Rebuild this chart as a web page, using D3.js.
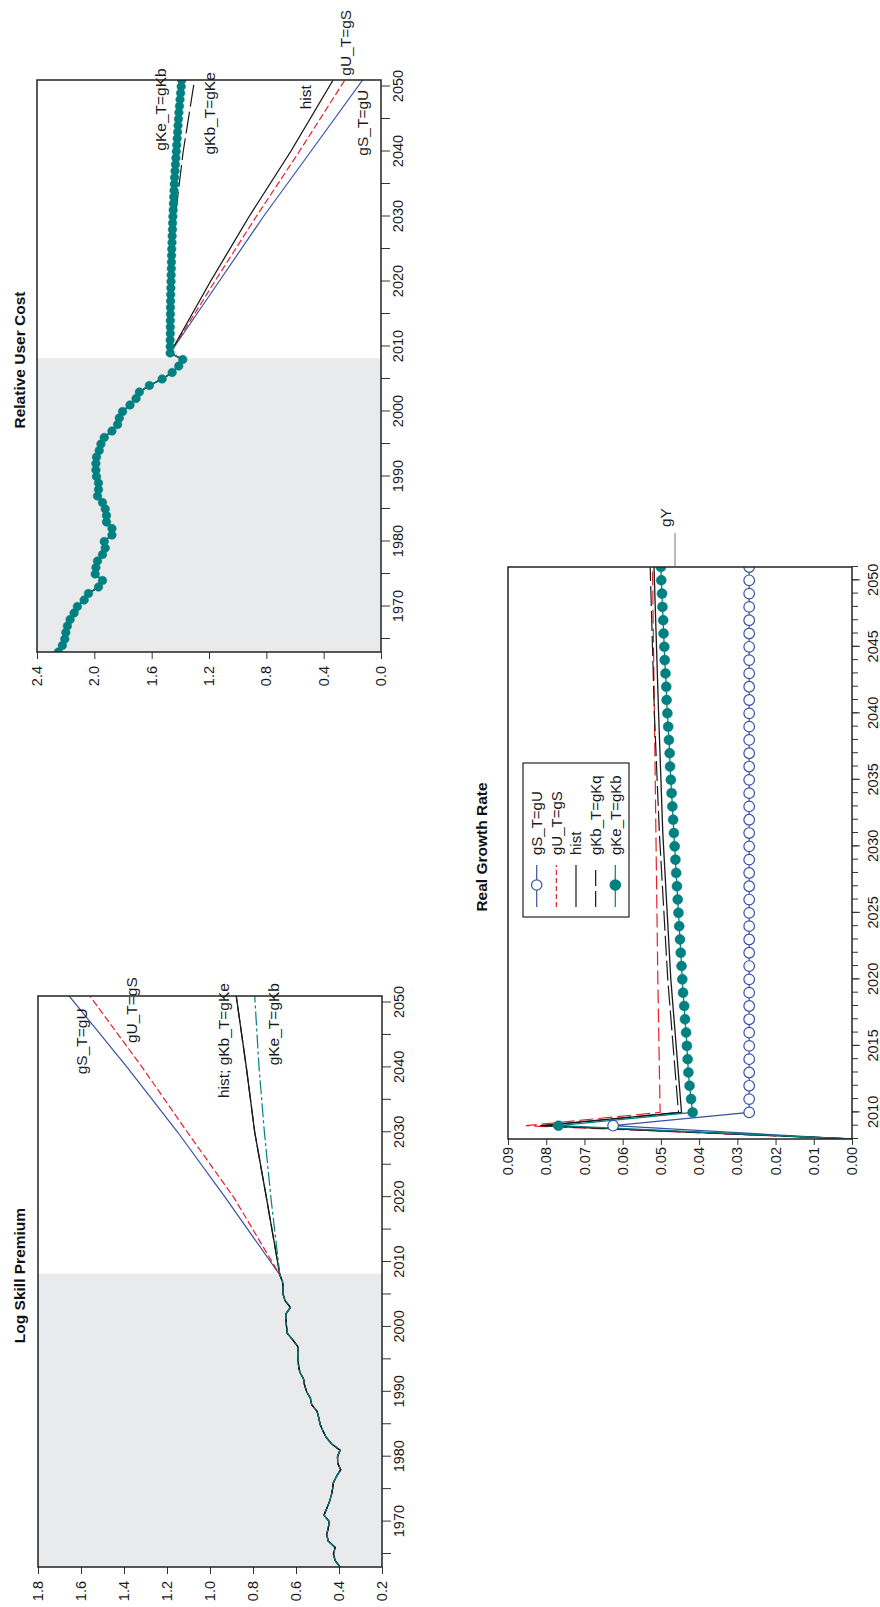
<!DOCTYPE html>
<html>
<head>
<meta charset="utf-8">
<script src="https://cdn.jsdelivr.net/npm/d3@7"></script>
<style>
  body { margin: 0; background: #fff; }
  svg { display: block; font-family: "Liberation Sans", Arial, Helvetica, sans-serif; }
  .axis path { display: none; }
  .axis line { stroke: #333; }
  .axis text { font-family: "Liberation Sans", Arial, Helvetica, sans-serif; font-size: 14.5px; fill: #1a1a1a; }
  .lbl { font-size: 15.5px; fill: #1a1a1a; }
  .title { font-size: 15.5px; font-weight: bold; fill: #111; }
</style>
</head>
<body>
<svg id="chart" width="880" height="1607"></svg>
<script>
// ---- data ----
var histYears = d3.range(1963, 2009);   // 1963..2008, shaded part

// Log Skill Premium
var lspHist = [0.395, 0.418, 0.426, 0.418, 0.450, 0.457, 0.450, 0.445, 0.470, 0.457,
               0.445, 0.436, 0.430, 0.426, 0.411, 0.392, 0.406, 0.407, 0.395, 0.435,
               0.460, 0.475, 0.488, 0.494, 0.502, 0.527, 0.533, 0.550, 0.560, 0.565,
               0.582, 0.588, 0.590, 0.590, 0.592, 0.615, 0.640, 0.644, 0.646, 0.647,
               0.626, 0.650, 0.660, 0.660, 0.663, 0.675];
var lspProjYears = [2020, 2030, 2040, 2051];
var lspGS = [0.93, 1.15, 1.385, 1.655];
var lspGU = [0.89, 1.105, 1.315, 1.559];
var lspHistProj = [0.738, 0.792, 0.831, 0.878];
var lspGKb = [0.738, 0.792, 0.831, 0.878];
var lspGKe = [0.717, 0.747, 0.772, 0.792];
var lspValueTicks = [0.2, 0.4, 0.6, 0.8, 1.0, 1.2, 1.4, 1.6, 1.8];

// Relative User Cost
var rucHist = [2.251, 2.223, 2.206, 2.199, 2.188, 2.169, 2.141, 2.118, 2.071, 2.041,
               1.971, 1.943, 1.994, 1.989, 1.978, 1.943, 1.924, 1.931, 1.877, 1.877,
               1.915, 1.915, 1.924, 1.943, 1.978, 1.971, 1.971, 1.985, 1.989, 1.989,
               1.985, 1.966, 1.954, 1.931, 1.877, 1.838, 1.826, 1.803, 1.751, 1.709,
               1.686, 1.616, 1.527, 1.457, 1.411, 1.383];
var rucProjYears = [2009, 2020, 2030, 2040, 2051];
var rucGS = [1.471, 1.13, 0.82, 0.49, 0.128];
var rucGU = [1.471, 1.16, 0.87, 0.57, 0.252];
var rucHistProj = [1.471, 1.19, 0.92, 0.63, 0.334];
var rucGKbYears = [2009, 2015, 2022, 2030, 2040, 2051];
var rucGKb = [1.471, 1.469, 1.463, 1.435, 1.38, 1.301];
var rucGKeYears = d3.range(2009, 2052);
var rucGKe = [1.471, 1.471, 1.471, 1.470, 1.470, 1.470, 1.469, 1.469, 1.468, 1.467,
              1.466, 1.465, 1.464, 1.463, 1.462, 1.461, 1.460, 1.458, 1.457, 1.455,
              1.454, 1.452, 1.450, 1.448, 1.446, 1.444, 1.442, 1.440, 1.437, 1.434,
              1.431, 1.428, 1.425, 1.422, 1.419, 1.416, 1.413, 1.410, 1.406, 1.402,
              1.398, 1.394, 1.390];
var rucValueTicks = [0.0, 0.4, 0.8, 1.2, 1.6, 2.0, 2.4];

// Real Growth Rate
var rgrYears = d3.range(2008, 2052);
var rgrGS = [0, 0.0625,
             0.0269, 0.0269, 0.0269, 0.0269, 0.0269, 0.0269, 0.0269, 0.0269, 0.0269, 0.0269,
             0.0269, 0.0269, 0.0269, 0.0269, 0.0269, 0.0269, 0.0269, 0.0269, 0.0269, 0.0269,
             0.0269, 0.0269, 0.0269, 0.0269, 0.0269, 0.0269, 0.0269, 0.0269, 0.0269, 0.0269,
             0.0269, 0.0269, 0.0269, 0.0269, 0.0269, 0.0269, 0.0269, 0.0269, 0.0269, 0.0269,
             0.0269, 0.0269];
var rgrGKe = [0, 0.0768,
              0.0417, 0.0421, 0.0425, 0.0428, 0.0430, 0.0432, 0.0434, 0.0437, 0.0439, 0.0442,
              0.0444, 0.0446, 0.0448, 0.0450, 0.0452, 0.0454, 0.0456, 0.0458, 0.0460, 0.0462,
              0.0464, 0.0466, 0.0468, 0.0470, 0.0472, 0.0474, 0.0476, 0.0477, 0.0479, 0.0481,
              0.0483, 0.0485, 0.0486, 0.0488, 0.0490, 0.0491, 0.0493, 0.0494, 0.0496, 0.0497,
              0.0499, 0.0500];
var rgrLineYears = [2008, 2009, 2010, 2020, 2031, 2040, 2051];
var rgrGU = [0, 0.0853, 0.0502, 0.0508, 0.0513, 0.0517, 0.0522];
var rgrHist = [0, 0.0816, 0.0446, 0.0474, 0.0495, 0.0506, 0.0518];
var rgrGKb = [0, 0.0805, 0.0454, 0.0482, 0.0504, 0.0517, 0.0528];
var rgrValueTicks = [0, 0.01, 0.02, 0.03, 0.04, 0.05, 0.06, 0.07, 0.08, 0.09];

var decadeTicks = [1970, 1980, 1990, 2000, 2010, 2020, 2030, 2040, 2050];
var rgrYearLabels = [2010, 2015, 2020, 2025, 2030, 2035, 2040, 2045, 2050];
var legendNames = ["gS_T=gU", "gU_T=gS", "hist", "gKb_T=gKq", "gKe_T=gKb"];

var blue = "#3953a4", red = "#e8202a", black = "#1a1a1a", teal = "#008080";

function join(years, vals) {
    return years.map(function (yr, i) { return [yr, vals[i]]; });
}

// ---- page: drawn landscape, then turned a quarter turn ----
var svg = d3.select("#chart");
var page = svg.append("g").attr("transform", "translate(0,1607) rotate(-90)");

function draw_panel(p) {
    var x = d3.scaleLinear().domain(p.xDomain).range([p.left, p.right]);
    var y = d3.scaleLinear().domain(p.yDomain).range([p.bottom, p.top]);
    var g = page.append("g");

    g.append("clipPath").attr("id", "clip-" + p.id)
        .append("rect")
        .attr("x", p.left).attr("y", p.top)
        .attr("width", p.right - p.left).attr("height", p.bottom - p.top);

    if (p.shadeTo) {
        g.append("rect")
            .attr("x", x(p.xDomain[0])).attr("y", p.top)
            .attr("width", x(p.shadeTo) - x(p.xDomain[0]))
            .attr("height", p.bottom - p.top)
            .attr("fill", "#e9eaec");
    }

    var plot = g.append("g").attr("clip-path", "url(#clip-" + p.id + ")");
    var line = d3.line().x(function (d) { return x(d[0]); }).y(function (d) { return y(d[1]); });

    p.series.forEach(function (s) {
        plot.append("path").datum(s.points)
            .attr("fill", "none")
            .attr("stroke", s.color)
            .attr("stroke-width", s.width || 1.2)
            .attr("stroke-dasharray", s.dash || null)
            .attr("d", line);
    });
    p.series.forEach(function (s) {
        if (!s.marker) return;
        plot.selectAll(null)
            .data(s.points.filter(function (d) { return d[0] >= s.markFrom; }))
            .enter().append("circle")
            .attr("cx", function (d) { return x(d[0]); })
            .attr("cy", function (d) { return y(d[1]); })
            .attr("r", s.r)
            .attr("fill", s.marker == "open" ? "#fff" : s.color)
            .attr("stroke", s.color)
            .attr("stroke-width", s.marker == "open" ? 1.2 : 0.5);
    });

    // x axis: minor ticks, then labelled ticks
    if (p.xMinor) {
        g.append("g").attr("class", "axis")
            .attr("transform", "translate(0," + p.bottom + ")")
            .call(d3.axisBottom(x).tickValues(p.xMinor).tickSize(p.xMinorSize).tickFormat(""));
    }
    g.append("g").attr("class", "axis")
        .attr("transform", "translate(0," + p.bottom + ")")
        .call(d3.axisBottom(x).tickValues(p.xTicks).tickSize(p.xTickSize).tickPadding(p.xPad)
            .tickFormat(function (d) { return p.xLabels.indexOf(d) >= 0 ? d : ""; }));

    g.append("g").attr("class", "axis")
        .attr("transform", "translate(" + p.left + ",0)")
        .call(d3.axisLeft(y).tickValues(p.yTicks).tickSize(p.yTickSize).tickPadding(p.yPad)
            .tickFormat(d3.format(p.yFormat)));

    g.append("rect")
        .attr("x", p.left).attr("y", p.top)
        .attr("width", p.right - p.left).attr("height", p.bottom - p.top)
        .attr("fill", "none").attr("stroke", "#222").attr("stroke-width", 1.5);

    g.append("text").attr("class", "title")
        .attr("x", (p.left + p.right) / 2 + 6).attr("y", p.titleY)
        .attr("text-anchor", "middle")
        .text(p.title);

    (p.labels || []).forEach(function (l) {
        g.append("text").attr("class", "lbl")
            .attr("x", x(l.at[0])).attr("y", y(l.at[1]))
            .attr("text-anchor", l.anchor || "end")
            .text(l.text);
    });

    return { g: g, x: x, y: y };
}

// ---- Log Skill Premium ----
var lspBase = join(histYears, lspHist);
draw_panel({
    id: "lsp", title: "Log Skill Premium", titleY: 25,
    left: 40, right: 611, top: 38, bottom: 382,
    xDomain: [1963, 2051], yDomain: [0.2, 1.8], shadeTo: 2008.2,
    xTicks: d3.range(1965, 2051, 5), xLabels: decadeTicks, xTickSize: 9, xPad: 3,
    yTicks: lspValueTicks, yFormat: ".1f", yTickSize: 7, yPad: 7,
    series: [
        { points: lspBase.concat(join(lspProjYears, lspGS)), color: blue },
        { points: lspBase.concat(join(lspProjYears, lspGU)), color: red, dash: "7,3" },
        { points: lspBase.concat(join(lspProjYears, lspHistProj)), color: black, width: 1.3 },
        { points: lspBase.concat(join(lspProjYears, lspGKb)), color: black, dash: "16,4" },
        { points: lspBase.concat(join(lspProjYears, lspGKe)), color: teal, dash: "14,3,3,3" }
    ],
    labels: [
        { text: "gS_T=gU", at: [2049.1, 1.572] },
        { text: "gU_T=gS", at: [2053.9, 1.340] },
        { text: "hist; gKb_T=gKe", at: [2053.0, 0.912] },
        { text: "gKe_T=gKb", at: [2053.0, 0.679] }
    ]
});

// ---- Relative User Cost ----
var rucBase = join(histYears, rucHist);
draw_panel({
    id: "ruc", title: "Relative User Cost", titleY: 25,
    left: 955, right: 1527, top: 37, bottom: 381,
    xDomain: [1963, 2051], yDomain: [0, 2.4], shadeTo: 2008.2,
    xTicks: d3.range(1965, 2051, 5), xLabels: decadeTicks, xTickSize: 9, xPad: 3,
    yTicks: rucValueTicks, yFormat: ".1f", yTickSize: 7, yPad: 7,
    series: [
        { points: rucBase.concat(join(rucProjYears, rucGS)), color: blue },
        { points: rucBase.concat(join(rucProjYears, rucGU)), color: red, dash: "7,3" },
        { points: rucBase.concat(join(rucProjYears, rucHistProj)), color: black, width: 1.3 },
        { points: rucBase.concat(join(rucGKbYears, rucGKb)), color: black, dash: "22,5" },
        { points: rucBase.concat(join(rucGKeYears, rucGKe)), color: teal,
          marker: "filled", r: 4.3, markFrom: 1963 }
    ],
    labels: [
        { text: "gKe_T=gKb", at: [2052.8, 1.500] },
        { text: "gKb_T=gKe", at: [2052.2, 1.158] },
        { text: "hist", at: [2050.2, 0.488] },
        { text: "gU_T=gS", at: [2061.8, 0.209] },
        { text: "gS_T=gU", at: [2049.5, 0.090] }
    ]
});

// ---- Real Growth Rate ----
var rgr = draw_panel({
    id: "rgr", title: "Real Growth Rate", titleY: 487,
    left: 468, right: 1040, top: 508, bottom: 852,
    xDomain: [2008, 2051], yDomain: [0, 0.09],
    xMinor: rgrYears, xMinorSize: 6,
    xTicks: rgrYearLabels, xLabels: rgrYearLabels, xTickSize: 8, xPad: 8,
    yTicks: rgrValueTicks, yFormat: ".2f", yTickSize: 6, yPad: 2,
    series: [
        { points: join(rgrYears, rgrGS), color: blue, marker: "open", r: 5.3, markFrom: 2009 },
        { points: join(rgrLineYears, rgrGU), color: red, dash: "14,5" },
        { points: join(rgrLineYears, rgrHist), color: black, width: 1.3 },
        { points: join(rgrLineYears, rgrGKb), color: black, dash: "20,5" },
        { points: join(rgrYears, rgrGKe), color: teal, width: 1.3, marker: "filled", r: 5, markFrom: 2009 }
    ],
    labels: [
        { text: "gY", at: [2054.0, 0.04735], anchor: "start" }
    ]
});

// leader line next to gY
rgr.g.append("line")
    .attr("x1", rgr.x(2051)).attr("x2", rgr.x(2053.56))
    .attr("y1", rgr.y(0.0463)).attr("y2", rgr.y(0.0463))
    .attr("stroke", "#555").attr("stroke-width", 0.8);

// legend
var legStyles = [
    { color: blue, marker: "open" },
    { color: red, dash: "5,3" },
    { color: black },
    { color: black, dash: "16,5" },
    { color: teal, marker: "filled" }
];
var lx = 468 + 222, ly = 508 + 15;
var leg = rgr.g.append("g");
leg.append("rect")
    .attr("x", lx).attr("y", ly).attr("width", 154).attr("height", 106)
    .attr("fill", "#fff").attr("stroke", "#222").attr("stroke-width", 1.2);

var rows = leg.selectAll(".row").data(legendNames).enter().append("g")
    .attr("class", "row")
    .attr("transform", function (d, i) { return "translate(" + lx + "," + (ly + 13.7 + i * 19.65) + ")"; });

rows.append("line")
    .attr("x1", 10).attr("x2", 52)
    .attr("stroke", function (d, i) { return legStyles[i].color; })
    .attr("stroke-width", 1.2)
    .attr("stroke-dasharray", function (d, i) { return legStyles[i].dash || null; });

rows.filter(function (d, i) { return legStyles[i].marker; })
    .append("circle")
    .attr("cx", 32).attr("r", 5.2)
    .attr("fill", function (d) { var s = legStyles[legendNames.indexOf(d)]; return s.marker == "open" ? "#fff" : s.color; })
    .attr("stroke", function (d) { return legStyles[legendNames.indexOf(d)].color; })
    .attr("stroke-width", 1.2);

rows.append("text")
    .attr("x", 62).attr("dy", "0.35em")
    .style("font-size", "15px").attr("fill", "#1a1a1a")
    .text(function (d) { return d; });
</script>
</body>
</html>
